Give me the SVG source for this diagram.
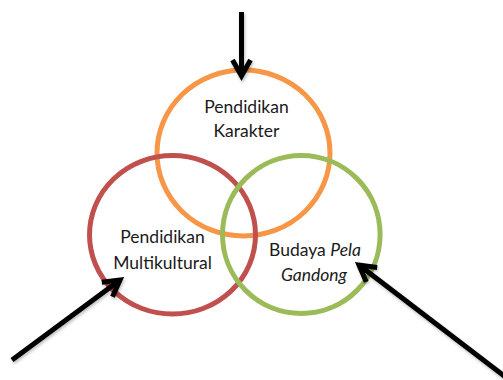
<svg xmlns="http://www.w3.org/2000/svg" width="503" height="380" viewBox="0 0 503 380">
<style>
.ring{fill:none;stroke-width:5}
.lbl{font-family:Lato,"Open Sans","Liberation Sans",sans-serif;font-size:17.5px;fill:#1a1a1a;text-anchor:middle}
.arr{fill:none;stroke:#000;stroke-width:5;marker-end:url(#ah);filter:url(#sh)}
</style>
<defs>
<marker id="ah" markerUnits="userSpaceOnUse" viewBox="-25 -15 30 30" refX="0" refY="0" markerWidth="30" markerHeight="30" orient="auto" overflow="visible">
<path d="M-16,-9 L0,0 L-16,9" fill="none" stroke="#000" stroke-width="5" stroke-linejoin="miter" stroke-miterlimit="10"/>
</marker>
<filter id="sh" filterUnits="userSpaceOnUse" x="0" y="0" width="503" height="380">
<feDropShadow dx="1" dy="2" stdDeviation="1.5" flood-color="#000" flood-opacity="0.25"/>
</filter>
</defs>
<g id="karakter">
<ellipse class="ring" cx="243.5" cy="153" rx="86.5" ry="83" stroke="#F79646"/>
<text class="lbl" x="246.5" y="112.5">Pendidikan</text>
<text class="lbl" x="246.5" y="137">Karakter</text>
</g>
<g id="multikultural">
<ellipse class="ring" cx="172.5" cy="234.8" rx="83" ry="79.3" stroke="#C0504D"/>
<text class="lbl" x="162.5" y="243">Pendidikan</text>
<text class="lbl" x="162.5" y="269">Multikultural</text>
</g>
<g id="pelagandong">
<ellipse class="ring" cx="301.3" cy="234.5" rx="78.8" ry="79" stroke="#9BBB59"/>
<text class="lbl" x="315" y="256">Budaya <tspan font-style="italic">Pela</tspan></text>
<text class="lbl" x="314" y="281" font-style="italic">Gandong</text>
</g>
<g id="connectors">
<line class="arr" x1="241.5" y1="12" x2="241.5" y2="76"/>
<line class="arr" x1="12" y1="360" x2="120" y2="280"/>
<line class="arr" x1="512" y1="382" x2="359" y2="265"/>
</g>
</svg>
